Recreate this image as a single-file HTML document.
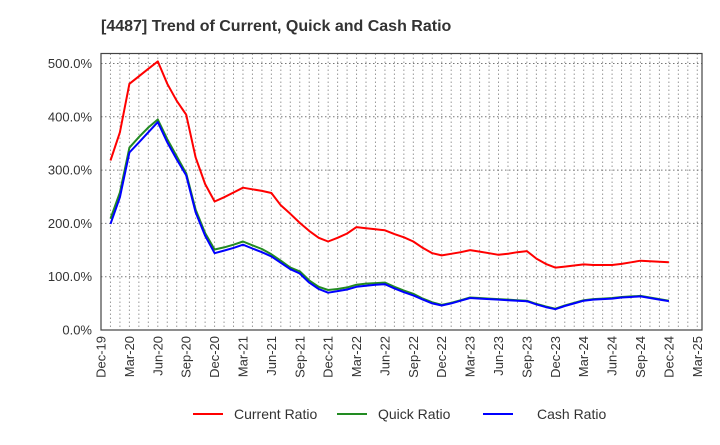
<!DOCTYPE html>
<html><head><meta charset="utf-8"><style>
body{margin:0;background:#fff;font-family:"Liberation Sans",Arial,sans-serif;}
svg text{font-family:"Liberation Sans",Arial,sans-serif;}
</style></head><body>
<svg id="chart" width="720" height="440" viewBox="0 0 720 440">
<text x="101" y="31" font-size="16" font-weight="bold" fill="#333">[4487]  Trend of Current, Quick and Cash Ratio</text>
<g id="grid"></g>
<g id="yaxis"></g>
<g id="xaxis"></g>
<g id="series"></g>
<rect x="101" y="53.5" width="601" height="276.5" fill="none" stroke="#444" stroke-width="1.2"/>
<g>
<g><line x1="193" y1="414" x2="223" y2="414" stroke="#f00" stroke-width="2"/><text x="234" y="419" font-size="14" fill="#333">Current Ratio</text></g>
<g><line x1="337" y1="414" x2="367" y2="414" stroke="#228B22" stroke-width="2"/><text x="378" y="419" font-size="14" fill="#333">Quick Ratio</text></g>
<g><line x1="483" y1="414" x2="513" y2="414" stroke="#00f" stroke-width="2"/><text x="537" y="419" font-size="14" fill="#333">Cash Ratio</text></g>
</g>
</svg>
<script>
const xTickLabels=["Dec-19","Mar-20","Jun-20","Sep-20","Dec-20","Mar-21","Jun-21","Sep-21","Dec-21","Mar-22","Jun-22","Sep-22","Dec-22","Mar-23","Jun-23","Sep-23","Dec-23","Mar-24","Jun-24","Sep-24","Dec-24","Mar-25"];
const yTicks=[0,100,200,300,400,500];
const currentRatio=[318,371,462,476,490,504,462,430,404,324,274,241,249,258,267,264,261,257,234,218,201,186,173,166,173,181,193,191,189,187,180,174,166,154,144,140,143,146,150,147,144,141,143,146,148,134,124,117,119,121,123,122,122,122,124,127,130,129,128,127];
const quickRatio=[209,258,342,362,380,395,358,326,294,226,182,151,155,160,166,159,152,142,130,117,110,93,81,75,77,80,85,87,88,89,81,74,68,59,52,47,51,56,61,60,59,58,57,56,55,49,44,40,46,51,56,58,59,60,62,63,64,61,58,55];
const cashRatio=[199,249,333,352,371,390,352,320,290,221,177,144,149,154,160,153,146,138,126,114,106,89,77,70,73,76,81,83,85,86,78,71,65,57,50,46,50,55,60,59,58,57,56,55,54,48,43,39,45,50,55,57,58,59,61,62,63,60,57,54];
const NS="http://www.w3.org/2000/svg";
const X0=101,X1=702,Y0=330,PER100=53.3;
function xs(m){return X0+m*(X1-X0)/63.5;}
function ys(v){return Y0-v*PER100/100;}
function mk(t,a,p){const e=document.createElementNS(NS,t);for(const k in a)e.setAttribute(k,a[k]);p.appendChild(e);return e;}
const grid=document.getElementById('grid'),ya=document.getElementById('yaxis'),xa=document.getElementById('xaxis'),ser=document.getElementById('series');
for(let m=1;m<=63;m++){const l=mk('line',{x1:xs(m),x2:xs(m),y1:53.5,y2:330,stroke:'#999','stroke-dasharray':'1.5,2.5','stroke-width':1},grid);

}
yTicks.forEach(v=>{if(v>0){const l=mk('line',{x1:X0,x2:X1,y1:ys(v),y2:ys(v),stroke:'#777','stroke-dasharray':'1.5,2.5','stroke-width':1},grid);

}
const t=mk('text',{x:92,y:ys(v)+4.5,'font-size':13,fill:'#333','text-anchor':'end'},ya);t.textContent=v.toFixed(1)+'%';

});
xTickLabels.forEach((s,i)=>{const x=xs(i*3);const t=mk('text',{x:0,y:0,'font-size':13,fill:'#333','text-anchor':'end',transform:`translate(${x+4.5},336) rotate(-90)`},xa);t.textContent=s;

});
function line(arr,color,name){const pts=arr.map((v,i)=>xs(i+1).toFixed(1)+','+ys(v).toFixed(1)).join(' ');
const p=mk('polyline',{points:pts,fill:'none',stroke:color,'stroke-width':2,'stroke-linejoin':'round'},ser);

}
line(currentRatio,'#f00','current-ratio-line');
line(quickRatio,'#228B22','quick-ratio-line');
line(cashRatio,'#00f','cash-ratio-line');
</script>
</body></html>
